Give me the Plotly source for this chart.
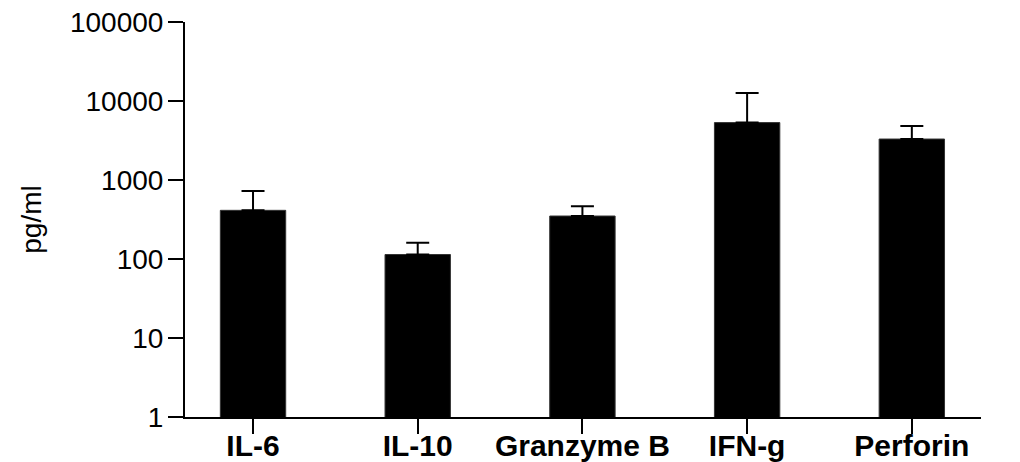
import plotly.graph_objects as go

categories = ["IL-6", "IL-10", "Granzyme B", "IFN-g", "Perforin"]
means = [413, 114, 350, 5330, 3300]
errors = [313, 47, 114, 7270, 1530]
y_tick_vals = [1, 10, 100, 1000, 10000, 100000]
y_tick_text = ["1", "10", "100", "1000", "10000", "100000"]

FONT = "Arial, Liberation Sans, sans-serif"

fig = go.Figure()
fig.add_trace(go.Bar(
    x=categories,
    y=means,
    width=0.397,
    marker=dict(color="black", line=dict(color="#333333", width=1)),
    error_y=dict(type="data", array=errors, arrayminus=[0] * len(errors),
                 symmetric=False, color="black", thickness=2, width=11.5),
))

fig.update_layout(
    width=1020, height=462,
    margin=dict(l=177, r=47, t=14, b=53),
    plot_bgcolor="white", paper_bgcolor="white",
    showlegend=False,
    font=dict(family=FONT, color="black"),
)
fig.update_xaxes(
    range=[-0.413, 4.42], automargin=False,
    showline=True, linecolor="black", linewidth=2,
    ticks="outside", ticklen=15, tickwidth=2, tickcolor="black",
    tickfont=dict(family=FONT, size=30, color="black", weight="bold"),
    ticklabelstandoff=-14, ticklabeloverflow="allow",
    showgrid=False, zeroline=False,
)
fig.update_yaxes(
    type="log", range=[0, 5], automargin=False,
    tickvals=y_tick_vals, ticktext=y_tick_text,
    showline=True, linecolor="black", linewidth=2,
    ticks="outside", ticklen=15, tickwidth=2, tickcolor="black",
    tickfont=dict(family=FONT, size=28, color="black"),
    ticklabelstandoff=-1, ticklabeloverflow="allow",
    showgrid=False, zeroline=False,
    title=dict(text="pg/ml", font=dict(family=FONT, size=28, color="black"), standoff=20),
)

fig.write_html("out.html")
